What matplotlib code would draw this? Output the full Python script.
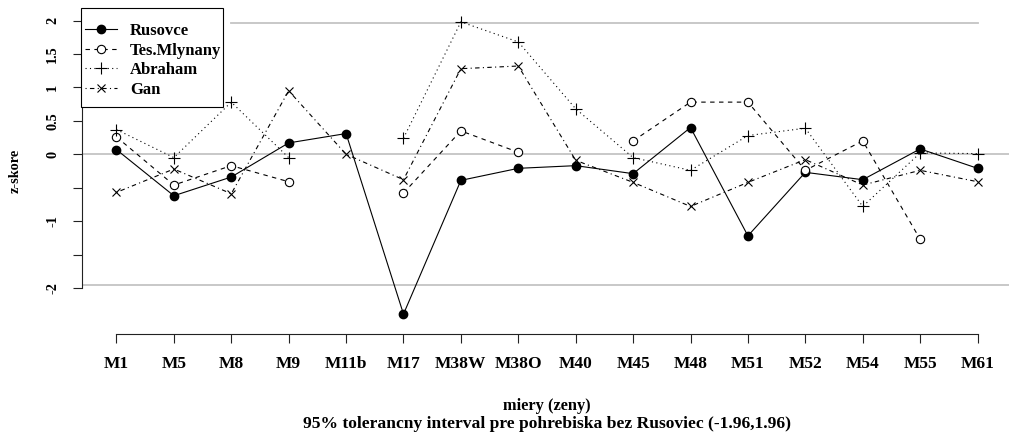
import numpy as np
import matplotlib
matplotlib.use("Agg")
import matplotlib.pyplot as plt
from matplotlib.patches import Rectangle

nan = np.nan
measures = ['M1', 'M5', 'M8', 'M9', 'M11b', 'M17', 'M38W', 'M38O', 'M40',
            'M45', 'M48', 'M51', 'M52', 'M54', 'M55', 'M61']
rusovce = [0.07, -0.62, -0.34, 0.17, 0.31, -2.39, -0.39, -0.21, -0.17,
           -0.29, 0.40, -1.22, -0.27, -0.38, 0.08, -0.21]
tes_mlynany = [0.26, -0.46, -0.17, -0.41, nan, -0.58, 0.35, 0.03, nan,
               0.20, 0.78, 0.78, -0.24, 0.20, -1.27, nan]
abraham = [0.37, -0.05, 0.78, -0.05, nan, 0.24, 1.98, 1.68, 0.68,
           -0.05, -0.24, 0.28, 0.39, -0.78, 0.02, 0.01]
gan = [-0.57, -0.22, -0.59, 0.95, 0.00, -0.38, 1.28, 1.32, -0.09,
       -0.42, -0.78, -0.42, -0.08, -0.46, -0.24, -0.41]
series_names = ['Rusovce', 'Tes.Mlynany', 'Abraham', 'Gan']
tolerance = 1.96
yticks = [-2, -1.5, -1, -0.5, 0, 0.5, 1, 1.5, 2]
ytick_labels = ['-2', '', '-1', '', '0', '0.5', '1', '1.5', '2']

plt.rcParams['font.family'] = ['Liberation Serif', 'DejaVu Serif']
plt.rcParams['font.weight'] = 'bold'

W, H = 1009, 433
fig = plt.figure(figsize=(W / 100, H / 100), dpi=100)
left_px, right_px, top_px, bot_px = 82, 1012, 8.5, 333.5
ax = fig.add_axes([left_px / W, (H - bot_px) / H,
                   (right_px - left_px) / W, (bot_px - top_px) / H])

x = np.arange(1, len(measures) + 1)
ax.set_xlim(0.4, len(measures) + 0.6)
ax.set_ylim(-2.68, 2.18)

grey = '#c4c4c4'
ax.axhline(0, color=grey, lw=1.3, zorder=1)
ax.axhline(-tolerance, color=grey, lw=1.3, zorder=1)
ax.plot([3, len(measures)], [tolerance, tolerance], color=grey, lw=1.3, zorder=1)

lw = 0.8
ax.plot(x, rusovce, color='black', lw=lw, ls='-', marker='o', ms=6,
        mfc='black', mec='black', label=series_names[0], zorder=3)
ax.plot(x, tes_mlynany, color='black', lw=lw, ls=(0, (4, 4)), marker='o', ms=6,
        mfc='white', mec='black', mew=0.8, label=series_names[1], zorder=3)
ax.plot(x, abraham, color='black', lw=lw, ls=(0, (1, 3)), marker='+', ms=8,
        mew=0.8, label=series_names[2], zorder=3)
ax.plot(x, gan, color='black', lw=lw, ls=(0, (1, 3, 4, 3)), marker='x', ms=6,
        mew=0.8, label=series_names[3], zorder=3)

for s in ['top', 'right']:
    ax.spines[s].set_visible(False)
ax.spines['left'].set_bounds(-2, 2)
ax.spines['bottom'].set_bounds(1, len(measures))
for s in ['left', 'bottom']:
    ax.spines[s].set_linewidth(0.8)
    ax.spines[s].set_color('#222222')

ax.set_yticks(yticks)
ax.set_yticklabels(ytick_labels, rotation=90, va='center', fontsize=10.3)
ax.set_xticks(x)
ax.set_xticklabels(measures, fontsize=12.5)
ax.tick_params(axis='y', length=6.5, width=0.8, pad=10, color='#222222')
ax.tick_params(axis='x', length=6.5, width=0.8, pad=10, color='#222222')

cx = (left_px + right_px) / 2 / W
cy = (H - (top_px + bot_px) / 2) / H
fig.text(cx, 1 - 406 / H, 'miery (zeny)', ha='center', va='center', fontsize=11.8)
fig.text(cx, 1 - 423.5 / H,
         '95% tolerancny interval pre pohrebiska bez Rusoviec (-1.96,1.96)',
         ha='center', va='center', fontsize=12.6)
fig.text(15 / W, cy, 'z-skore', rotation=90, ha='center', va='center', fontsize=10.3)

# legend frame (R style box at the top-left corner of the plot region)
box = Rectangle((81 / W, 1 - 107 / H), (223 - 81) / W, (107 - 8) / H,
                transform=fig.transFigure, facecolor='white', edgecolor='black',
                lw=0.8, zorder=4, clip_on=False)
ax.add_patch(box)
leg = ax.legend(loc='upper left', bbox_to_anchor=(85 / W, 1 - 23 / H),
                bbox_transform=fig.transFigure, borderaxespad=0, borderpad=0,
                frameon=False, fontsize=12, handlelength=1.9, handletextpad=0.8,
                labelspacing=0.22)
leg.set_zorder(5)

fig.savefig('out.png', dpi=100)
